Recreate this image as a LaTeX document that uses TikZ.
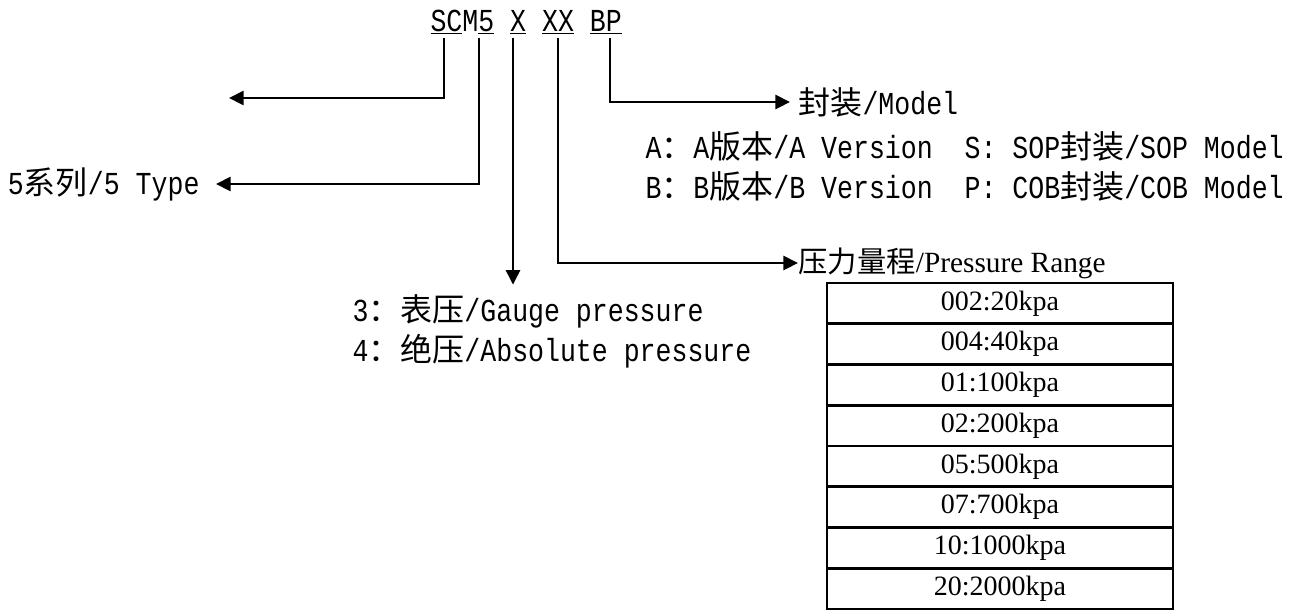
\documentclass[tikz,border=0pt]{standalone}
\usepackage{fontspec}
\usetikzlibrary{arrows.meta}
\setmainfont{Liberation Serif}
\newfontfamily\monofont[FakeStretch=0.83]{Liberation Mono}
\newfontfamily\zhfont{Noto Sans CJK SC}
\newcommand{\zh}[1]{{\zhfont #1}}
\tikzset{every picture/.style={line width=0.75pt}}

\begin{document}
\begin{tikzpicture}[x=0.75pt,y=0.75pt,yscale=-1,xscale=1,
  leadline/.style={line width=2.2pt, -{Triangle[length=11pt,width=10.5pt]}},
  txt/.style={inner sep=0pt, font=\fontsize{24}{30}\selectfont\monofont, align=left},
  rangetxt/.style={inner sep=0pt, font=\fontsize{22}{26}\selectfont},
  rangecell/.style={draw, line width=2.2pt, minimum width=259.5pt, minimum height=30.56pt, inner sep=0pt, font=\fontsize{21}{25}\selectfont}]
\useasboundingbox (0,0) rectangle (1301,612);

% Text Node
\node[txt, anchor=base west] (code) at (430,31) {\underline{SC}M\underline{5} \underline{X} \underline{XX} \underline{BP}};
% Text Node
\node[txt, anchor=east] (type) at (200,184) {5\zh{系列}/5 Type};
% Text Node
\node[txt, anchor=west] (model) at (798,102) {\zh{封装}/Model};
% Text Node
\node[txt, anchor=north west] (pkg) at (645,131) {A\zh{：}A\zh{版本}/A Version\ \ S:\ SOP\zh{封装}/SOP Model\\B\zh{：}B\zh{版本}/B Version\ \ P:\ COB\zh{封装}/COB Model};
% Text Node
\node[txt, anchor=north west] (gauge) at (352,294) {3\zh{：}\zh{表压}/Gauge pressure\\4\zh{：}\zh{绝压}/Absolute pressure};
% Text Node
\node[rangetxt, anchor=west] (range) at (798,263) {\zh{压力量程}/Pressure Range};

%Shape: Table
\foreach \val [count=\i] in {002:20kpa, 004:40kpa, 01:100kpa, 02:200kpa, 05:500kpa, 07:700kpa, 10:1000kpa, 20:2000kpa}
  \node[rangecell] (r\i) at (1000,{262.6+40.75*\i}) {\val};

% line starts under the code
\coordinate (scTop) at (444,38);
\coordinate (fiveTop) at (479,38);
\coordinate (xTop) at (513,38);
\coordinate (xxTop) at (558,38);
\coordinate (bpTop) at (610,38);
\coordinate (scEnd) at (229,98);

%Straight Lines
\draw[leadline] (scTop) |- (scEnd);
\draw[leadline, shorten >=12pt] (fiveTop) |- (type.east);
\draw[leadline, shorten >=7pt] (xTop) -- (xTop |- gauge.north);
\draw[leadline] (xxTop) |- (range.west);
\draw[leadline, shorten >=6pt] (bpTop) |- (model.west);

\end{tikzpicture}
\end{document}
